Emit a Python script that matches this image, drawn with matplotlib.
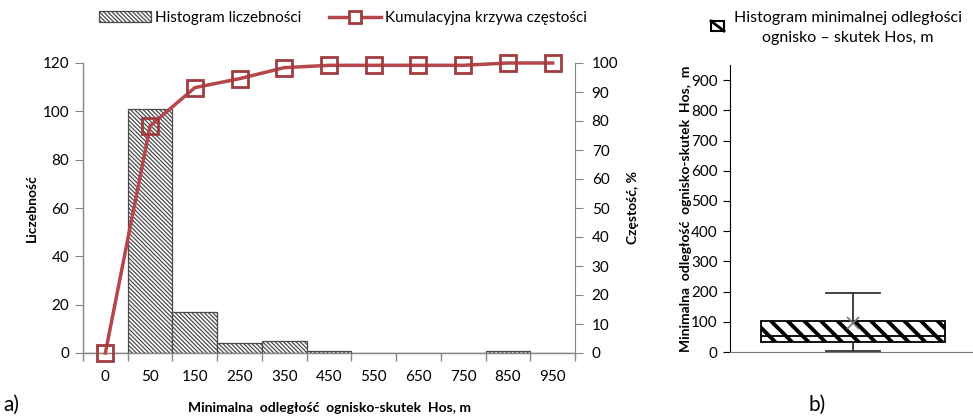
import matplotlib
matplotlib.use("Agg")
import matplotlib.pyplot as plt
from matplotlib.patches import Rectangle, Patch
from matplotlib.lines import Line2D

plt.rcParams['font.family'] = ['Lato', 'DejaVu Sans']
plt.rcParams['hatch.linewidth'] = 0.9

# Histogram data (class midpoints in metres)
categories = ['0', '50', '150', '250', '350', '450', '550', '650', '750', '850', '950']
counts = [0, 101, 17, 4, 5, 1, 0, 0, 0, 1, 0]
cumulative_pct = [0, 78.3, 91.5, 94.6, 98.4, 99.2, 99.2, 99.2, 99.2, 100, 100]

# Box plot statistics for Hos, m
box_q1 = 33
box_median = 53
box_q3 = 103
box_whisker_low = 4
box_whisker_high = 195
box_mean = 95

grey = '#868686'
red = '#B5474A'
red_dark = '#A03C3F'
bar_hatch = '\\' * 8

fig = plt.figure(figsize=(9.73, 4.18), dpi=100)

# ---- a) frequency histogram with cumulative curve ----
ax = fig.add_axes([83/973, 1-353/418, (575-83)/973, (353-63)/418])
x = list(range(len(categories)))
ax.bar(x, counts, width=1.0, color='white', edgecolor='#4a4a4a',
       hatch=bar_hatch, linewidth=0.9, zorder=2)
ax.set_xlim(-0.5, len(categories) - 0.5)
ax.set_ylim(0, 120)
ax.set_yticks(range(0, 121, 20))
ax.set_xticks(x)
ax.set_xticklabels(categories)
ax.tick_params(axis='x', which='major', length=0, pad=12, labelsize=11)
ax.set_xticks([i - 0.5 for i in range(len(categories) + 1)], minor=True)
ax.tick_params(axis='x', which='minor', length=6, color=grey, width=1)
ax.tick_params(axis='y', length=6, color=grey, labelsize=11, pad=4)
for s in ['top', 'right']:
    ax.spines[s].set_visible(False)
for s in ['left', 'bottom']:
    ax.spines[s].set_color(grey)
    ax.spines[s].set_linewidth(1)
ax.set_ylabel('Liczebność', fontsize=10, fontweight='bold', labelpad=3)
ax.set_xlabel('Minimalna  odległość  ognisko-skutek  Hos, m', fontsize=10,
              fontweight='bold', labelpad=13)

ax2 = ax.twinx()
ax2.set_ylim(0, 100)
ax2.set_yticks(range(0, 101, 10))
ax2.plot(x, cumulative_pct, color=red, linewidth=2.5, marker='s', markersize=11,
         markerfacecolor='none', markeredgecolor=red_dark, markeredgewidth=2,
         clip_on=False, zorder=3)
for s in ['top', 'left', 'bottom']:
    ax2.spines[s].set_visible(False)
ax2.spines['right'].set_color(grey)
ax2.tick_params(axis='y', length=6, color=grey, labelsize=11, pad=6)
ax2.set_ylabel('Częstość, %', fontsize=10, fontweight='bold', labelpad=6)

handles = [Patch(facecolor='white', edgecolor='#4a4a4a', hatch=bar_hatch, linewidth=0.9),
           Line2D([], [], color=red, linewidth=2.5, marker='s', markersize=9,
                  markerfacecolor='white', markeredgecolor=red_dark, markeredgewidth=2)]
fig.legend(handles, ['Histogram liczebności', 'Kumulacyjna krzywa częstości'],
           loc='center', bbox_to_anchor=(343/973, 1-18/418), ncol=2, frameon=False,
           fontsize=11, handlelength=3.4, handletextpad=0.3, columnspacing=1.8)

fig.text(3/973, 1-405/418, 'a)', fontsize=15, va='center', ha='left')

# ---- b) box plot ----
bx = fig.add_axes([730/973, 1-352/418, 1-730/973, (352-65)/418])
stats = [dict(med=box_median, q1=box_q1, q3=box_q3, whislo=box_whisker_low,
              whishi=box_whisker_high, mean=box_mean, fliers=[])]
bp = bx.bxp(stats, positions=[0.506], widths=0.76, capwidths=0.22,
            patch_artist=True, showmeans=True, manage_ticks=False,
            boxprops=dict(facecolor='white', edgecolor='black', linewidth=1.3,
                          hatch='\\' * 2),
            medianprops=dict(color='black', linewidth=1.3),
            whiskerprops=dict(color='#333333', linewidth=1.3),
            capprops=dict(color='#333333', linewidth=1.3),
            meanprops=dict(marker='x', markeredgecolor='#777777', markersize=9,
                           markeredgewidth=1.2))
for b in bp['boxes']:
    if hasattr(b, 'set_hatch_linewidth'):
        b.set_hatch_linewidth(2.8)
bx.set_xlim(0, 1)
bx.set_ylim(0, 950)
bx.set_yticks(range(0, 901, 100))
bx.set_xticks([])
for s in ['top', 'right']:
    bx.spines[s].set_visible(False)
bx.spines['left'].set_color('black')
bx.spines['bottom'].set_color('#777777')
bx.tick_params(axis='y', length=5, labelsize=11, pad=4)
bx.set_ylabel('Minimalna  odległość  ognisko-skutek  Hos,  m', fontsize=10,
              fontweight='bold', labelpad=-1)

# legend key for the box plot: square with a single diagonal stroke
fig.patches.append(Rectangle((711/973, 1-31/418), 13/973, 10/418,
                             transform=fig.transFigure, facecolor='white',
                             edgecolor='black', linewidth=1.5))
fig.lines.append(Line2D([711/973, 724/973], [1-21/418, 1-31/418],
                        transform=fig.transFigure, color='black', linewidth=2))
fig.text(848/973, 1-28/418, 'Histogram minimalnej odległości\nognisko – skutek Hos, m',
         fontsize=11.5, ha='center', va='center', linespacing=1.5)

fig.text(808/973, 1-405/418, 'b)', fontsize=15, va='center', ha='left')

fig.savefig('out.png', dpi=100)
